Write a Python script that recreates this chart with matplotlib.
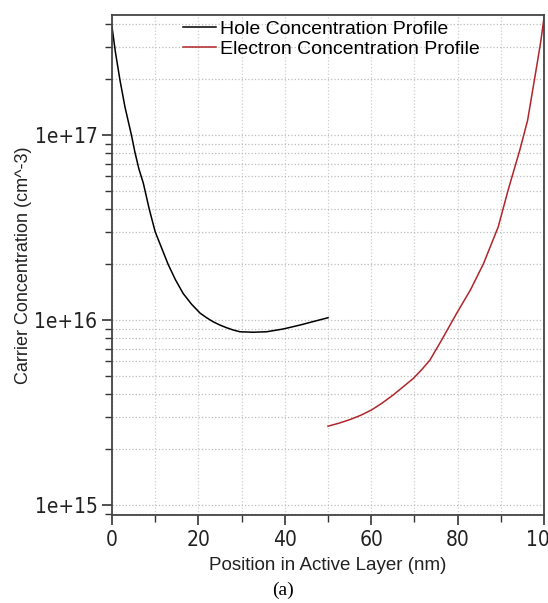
import numpy as np
import matplotlib
matplotlib.use("Agg")
import matplotlib.pyplot as plt
from matplotlib.ticker import FixedLocator, NullFormatter

# values
hole_x = [0, 0.8, 1.85, 3.0, 4.5, 5.3, 6.2, 7.25, 8.6, 10, 11.5, 13, 14.7, 16.5, 18.4,
          20.4, 21.9, 23.4, 25.0, 26.5, 28.0, 29.6, 32.7, 35.8, 39.6, 43.5, 46.8, 50]
hole_y = [3.85e17, 2.8e17, 1.98e17, 1.42e17, 1.0e17, 8.1e16, 6.6e16, 5.5e16, 4.0e16,
          3.0e16, 2.45e16, 2.0e16, 1.65e16, 1.39e16, 1.22e16, 1.09e16, 1.03e16,
          9.8e15, 9.4e15, 9.1e15, 8.85e15, 8.65e15, 8.6e15, 8.65e15, 8.95e15,
          9.4e15, 9.85e15, 1.03e16]

elec_x = [50, 52.5, 55.1, 57.6, 60.1, 62.6, 65.1, 67.4, 69.75, 71.7, 73.6, 76.3, 79.8,
          83.0, 86, 89.4, 91.7, 94.4, 96.2, 98.3, 99.2, 100]
elec_y = [2.67e15, 2.77e15, 2.9e15, 3.06e15, 3.27e15, 3.57e15, 3.94e15, 4.36e15,
          4.84e15, 5.4e15, 6.08e15, 7.8e15, 1.09e16, 1.46e16, 2.02e16, 3.19e16,
          5.05e16, 8.3e16, 1.2e17, 2.35e17, 3.15e17, 4.3e17]

labels = ["Hole Concentration Profile", "Electron Concentration Profile"]
x_ticks = [0, 20, 40, 60, 80, 100]
y_ticks = [1e15, 1e16, 1e17]
y_tick_labels = ["1e+15", "1e+16", "1e+17"]

plt.rcParams['font.family'] = ['Liberation Sans', 'DejaVu Sans']

fig = plt.figure(figsize=(5.48, 6.03), dpi=100)
ax = fig.add_axes([112 / 548, 1 - 515 / 603, 432 / 548, 500 / 603])

ax.plot(hole_x, hole_y, color='black', lw=1.1, label=labels[0])
ax.plot(elec_x, elec_y, color='#b0262b', lw=1.1, label=labels[1])

ax.set_yscale('log')
ax.set_xlim(0, 100)
ax.set_ylim(8.84e14, 4.46e17)

ax.set_xticks(x_ticks)
ax.set_xticks(np.arange(0, 101, 10), minor=True)
ax.set_yticks(y_ticks)
ax.set_yticklabels(y_tick_labels)
ax.yaxis.set_minor_locator(FixedLocator(
    [m * 10 ** e for e in (14, 15, 16, 17) for m in range(2, 10)]))
ax.yaxis.set_minor_formatter(NullFormatter())

# narrow, tall tick digits like the original
for lab in ax.get_xticklabels() + ax.get_yticklabels():
    lab.set_fontfamily('DejaVu Sans')
    lab.set_fontstretch('condensed')
    lab.set_fontsize(15)
    lab.set_color('#222222')

ax.tick_params(which='major', direction='out', length=7, width=1.2, color='#333333', pad=3.5,
               top=False, right=False)
ax.tick_params(which='minor', direction='out', length=5, width=1.0, color='#333333',
               top=False, right=False)

ax.grid(True, which='both', axis='y', linestyle=':', color='#bdbdbd', lw=0.9)
ax.grid(True, which='both', axis='x', linestyle=':', color='#cfcfcf', lw=0.9)
for s in ax.spines.values():
    s.set_color('#444444')
    s.set_linewidth(1.3)

ax.set_xlabel("Position in Active Layer (nm)", fontsize=13.5, color='#222222')
ax.xaxis.set_label_coords(0.5, -0.084)
ax.set_ylabel("Carrier Concentration (cm^-3)", fontsize=13, color='#222222')
ax.yaxis.set_label_coords(-0.186, 0.5)

ax.legend(loc='upper left', bbox_to_anchor=(0.164, 0.99), frameon=False,
          fontsize=14, handlelength=1.7, handletextpad=0.2, labelspacing=0.15,
          borderpad=0, borderaxespad=0)

fig.text(283 / 548, 1 - 590 / 603, "(a)", family='Liberation Serif', fontsize=14,
         ha='center', va='center', color='black')

fig.savefig("out.png", dpi=100)
